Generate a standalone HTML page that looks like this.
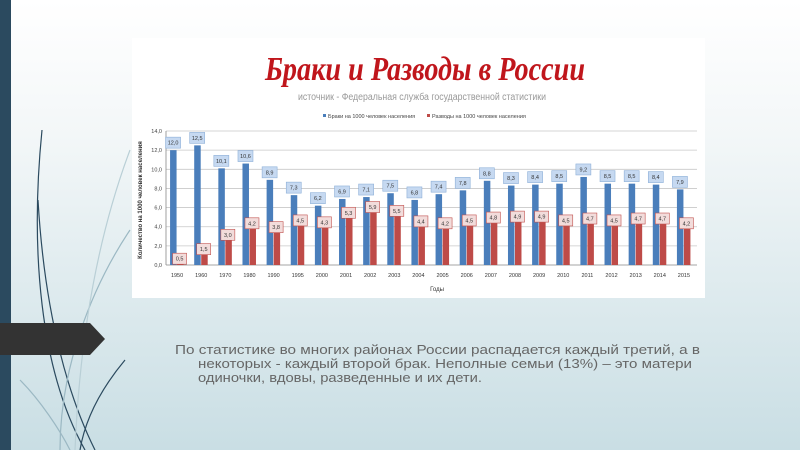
<!DOCTYPE html>
<html><head><meta charset="utf-8"><style>
html,body{margin:0;padding:0;width:800px;height:450px;overflow:hidden}
body{background:linear-gradient(#ffffff 0%,#f3f7f8 30%,#c9dee4 100%);position:relative;font-family:"Liberation Sans","DejaVu Sans",sans-serif}
</style></head><body>
<svg width="800" height="450" style="position:absolute;left:0;top:0">
<rect x="0" y="0" width="11" height="450" fill="#2b4a5f"/>
<g fill="none" stroke-width="1.2">
<path d="M42 130 C30 250 40 370 85 450" stroke="#2b4a5f"/>
<path d="M38 200 C45 320 70 400 95 450" stroke="#2b4a5f"/>
<path d="M130 230 C90 290 60 370 60 450" stroke="#9bb8c3"/>
<path d="M125 360 C100 390 85 420 80 450" stroke="#2b4a5f"/>
<path d="M20 380 C40 400 60 430 70 450" stroke="#9bb8c3"/>
<path d="M130 150 C100 230 80 330 75 450" stroke="#b9cfd6"/>
</g>
<polygon points="0,323 90,323 105,339 90,355 0,355" fill="#333"/>
<rect x="132" y="38" width="573" height="260" fill="#fff"/>
<text x="425" y="80" text-anchor="middle" font-family="Liberation Serif,serif" font-style="italic" font-weight="bold" font-size="34" fill="#c0161c" textLength="320" lengthAdjust="spacingAndGlyphs">Браки и Разводы в России</text>
<text x="422" y="100" text-anchor="middle" font-size="10" fill="#999" textLength="248" lengthAdjust="spacingAndGlyphs">источник - Федеральная служба государственной статистики</text>
<rect x="323" y="114" width="3" height="3" fill="#4a7ebb"/>
<text x="328" y="118" font-size="5.5" fill="#444">Браки на 1000 человек населения</text>
<rect x="427" y="114" width="3" height="3" fill="#be4b48"/>
<text x="432" y="118" font-size="5.5" fill="#444">Разводы на 1000 человек населения</text>
<g id="chart"></g>
<text x="142" y="200" transform="rotate(-90 142 200)" text-anchor="middle" font-size="6" font-weight="bold" fill="#333">Количество на 1000 человек населения</text>
<text x="437" y="291" text-anchor="middle" font-size="6" fill="#333">Годы</text>
<text x="175" y="354" font-size="13" fill="#666" textLength="525" lengthAdjust="spacingAndGlyphs">По статистике во многих районах России распадается каждый третий, а в</text>
<text x="198" y="368" font-size="13" fill="#666" textLength="494" lengthAdjust="spacingAndGlyphs">некоторых  - каждый второй брак. Неполные семьи (13%) – это матери</text>
<text x="198" y="382" font-size="13" fill="#666" textLength="284" lengthAdjust="spacingAndGlyphs">одиночки, вдовы, разведенные и их дети.</text>
</svg>
<script>
var Y=["1950","1960","1970","1980","1990","1995","2000","2001","2002","2003","2004","2005","2006","2007","2008","2009","2010","2011","2012","2013","2014","2015"];
var B=[12.0,12.5,10.1,10.6,8.9,7.3,6.2,6.9,7.1,7.5,6.8,7.4,7.8,8.8,8.3,8.4,8.5,9.2,8.5,8.5,8.4,7.9];
var R=[0.5,1.5,3.0,4.2,3.8,4.5,4.3,5.3,5.9,5.5,4.4,4.2,4.5,4.8,4.9,4.9,4.5,4.7,4.5,4.7,4.7,4.2];
var x0=166,x1=697,yb=265,s=9.57,w=(x1-x0)/22,h='';
for(var k=0;k<=7;k++){var yy=yb-k*2*s;h+='<line x1="'+x0+'" x2="'+x1+'" y1="'+yy+'" y2="'+yy+'" stroke="'+(k?'#c8c8c8':'#888')+'" stroke-width="0.8"/>';
h+='<text x="'+(x0-4)+'" y="'+(yy+2)+'" text-anchor="end" font-size="5.5" fill="#444">'+(k*2).toFixed(1).replace('.',',')+'</text>';}
h+='<line x1="'+x0+'" x2="'+x0+'" y1="'+(yb-14*s)+'" y2="'+yb+'" stroke="#888" stroke-width="0.8"/>';
function f(v){return v.toFixed(1).replace('.',',');}
for(var i=0;i<22;i++){var c=x0+w*(i+0.5)-2;
var bt=yb-B[i]*s,rt=yb-R[i]*s;
h+='<rect x="'+(c-6)+'" y="'+bt+'" width="6.5" height="'+(B[i]*s)+'" fill="#4a7ebb"/>';
h+='<rect x="'+(c+1)+'" y="'+rt+'" width="6.5" height="'+(R[i]*s)+'" fill="#be4b48"/>';
h+='<rect x="'+(c-10.5)+'" y="'+(bt-13)+'" width="15" height="11" fill="#c6d9f1" stroke="#8eb0d8" stroke-width="0.6"/>';
h+='<text x="'+(c-3)+'" y="'+(bt-5.5)+'" text-anchor="middle" font-size="5.5" fill="#333">'+f(B[i])+'</text>';
h+='<rect x="'+(c-3.5)+'" y="'+(rt-7)+'" width="14" height="11" fill="#f2dcdb" stroke="#c0504d" stroke-width="0.6"/>';
h+='<text x="'+(c+3.5)+'" y="'+(rt+0.5)+'" text-anchor="middle" font-size="5.5" fill="#333">'+f(R[i])+'</text>';
h+='<text x="'+(c+1)+'" y="'+(yb+12)+'" text-anchor="middle" font-size="5.5" fill="#333">'+Y[i]+'</text>';}
document.getElementById('chart').innerHTML=h;
</script>
</body></html>
